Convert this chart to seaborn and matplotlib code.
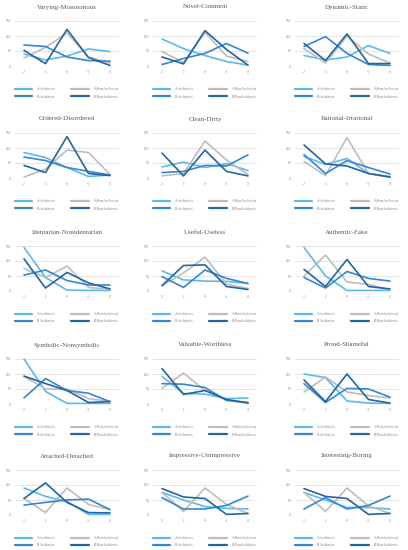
import numpy as np
import pandas as pd
import matplotlib
matplotlib.use('Agg')
import matplotlib.pyplot as plt
import seaborn as sns

# categorie sull'asse x (scala semantica)
scale = ['2', '1', '0', '-1', '-2']
groups = ['A-Architects', 'A-NonArchitects', 'B-Architects', 'B-NonArchitects']

titles = ['Varying-Monotonous', 'Novel-Common', 'Dynamic-Static',
          'Ordered-Disordered', 'Clean-Dirty', 'Rational-Irrational',
          'Identarian-Nonidentarian', 'Useful-Useless', 'Authentic-Fake',
          'Symbolic-Nonsymbolic', 'Valuable-Worthless', 'Proud-Shameful',
          'Attached-Detached', 'Impressive-Unimpressive', 'Interesting-Boring']

# valori, un array per gruppo (una riga per pannello)
a_arch = [
    [40, 20, 33, 57, 48],
    [90, 58, 35, 15, 3],
    [35, 20, 30, 68, 42],
    [85, 68, 35, 5, 10],
    [37, 53, 35, 48, 25],
    [72, 45, 65, 15, 5],
    [145, 45, 3, 2, 2],
    [67, 37, 33, 32, 25],
    [145, 50, 2, 2, 2],
    [150, 42, 2, 2, 2],
    [92, 35, 33, 18, 20],
    [100, 88, 10, 3, 2],
    [90, 62, 45, 2, 2],
    [75, 50, 28, 22, 20],
    [75, 50, 25, 25, 20],
]
a_nonarch = [
    [27, 62, 110, 30, 10],
    [48, 12, 112, 33, 15],
    [58, 10, 100, 40, 10],
    [3, 30, 93, 85, 12],
    [7, 15, 123, 60, 12],
    [55, 8, 135, 15, 3],
    [75, 45, 83, 12, 5],
    [18, 60, 113, 23, 8],
    [50, 120, 30, 22, 3],
    [92, 50, 50, 18, 8],
    [52, 103, 45, 15, 5],
    [40, 90, 40, 28, 20],
    [55, 8, 90, 35, 18],
    [75, 12, 90, 35, 5],
    [75, 12, 90, 30, 5],
]
b_arch = [
    [70, 65, 30, 18, 16],
    [5, 25, 42, 75, 43],
    [65, 98, 42, 5, 2],
    [70, 58, 35, 22, 10],
    [18, 22, 42, 40, 77],
    [78, 15, 58, 35, 13],
    [53, 70, 35, 20, 20],
    [48, 12, 70, 42, 25],
    [45, 10, 65, 42, 33],
    [20, 85, 45, 36, 8],
    [68, 66, 55, 12, 5],
    [68, 5, 52, 50, 23],
    [33, 42, 50, 53, 18],
    [58, 20, 20, 32, 63],
    [20, 58, 20, 32, 63],
]
b_nonarch = [
    [52, 8, 122, 28, 2],
    [30, 7, 118, 55, 3],
    [75, 18, 107, 8, 8],
    [42, 18, 138, 15, 8],
    [83, 7, 93, 22, 7],
    [110, 47, 40, 15, 3],
    [107, 10, 62, 27, 7],
    [18, 85, 87, 15, 5],
    [72, 15, 105, 15, 7],
    [93, 68, 45, 5, 8],
    [118, 32, 45, 15, 3],
    [80, 8, 100, 15, 3],
    [55, 107, 42, 8, 7],
    [88, 60, 55, 2, 5],
    [88, 62, 55, 2, 5],
]

colori = {'A-Architects': '#5cb9ec', 'A-NonArchitects': '#bdbdbd',
          'B-Architects': '#3586d4', 'B-NonArchitects': '#24649f'}

sns.set_style('white')
plt.rcParams['font.family'] = ['Liberation Serif', 'DejaVu Serif']

fig = plt.figure(figsize=(4.08, 5.5), dpi=100)
W, H = 408, 550
col_left = [15, 153, 295]
ax_w = 104
row_top = [21, 133, 246, 359, 470]
ax_h = 45

for i, titolo in enumerate(titles):
    r, c = divmod(i, 3)
    ax = fig.add_axes([col_left[c] / W, 1 - (row_top[r] + ax_h) / H, ax_w / W, ax_h / H])
    df = pd.DataFrame({
        'Scala': scale * 4,
        'Valore': a_arch[i] + a_nonarch[i] + b_arch[i] + b_nonarch[i],
        'Gruppo': np.repeat(groups, len(scale)),
    })
    sns.lineplot(data=df, x='Scala', y='Valore', hue='Gruppo', palette=colori,
                 hue_order=groups, linewidth=1.2, sort=False, ax=ax, clip_on=False)
    ax.set_xlim(-0.42, 4.42)
    ax.set_ylim(0, 150)
    ax.set_yticks([0, 50, 100, 150])
    ax.grid(axis='y', color='#d9d9d9', linewidth=0.5)
    ax.set_axisbelow(True)
    for s in ax.spines.values():
        s.set_visible(False)
    ax.tick_params(axis='both', labelsize=2.6, colors='#7f7f7f', length=0, pad=3)
    ax.set_xlabel('')
    ax.set_ylabel('')
    ax.set_title(titolo, fontsize=5, color='#595959', pad=9)
    h, l = ax.get_legend_handles_labels()
    idx = [l.index(g) for g in ['A-Architects', 'B-Architects', 'A-NonArchitects', 'B-NonArchitects']]
    leg = ax.legend([h[k] for k in idx], [l[k] for k in idx], ncol=2, loc='upper center',
                    bbox_to_anchor=(0.5, -0.4), frameon=False, fontsize=2.6,
                    handlelength=4.8, columnspacing=4.2, labelspacing=0.9,
                    handletextpad=1.4, labelcolor='#7f7f7f')
    for line in leg.get_lines():
        line.set_linewidth(1.6)

fig.savefig('out.png', dpi=100)
